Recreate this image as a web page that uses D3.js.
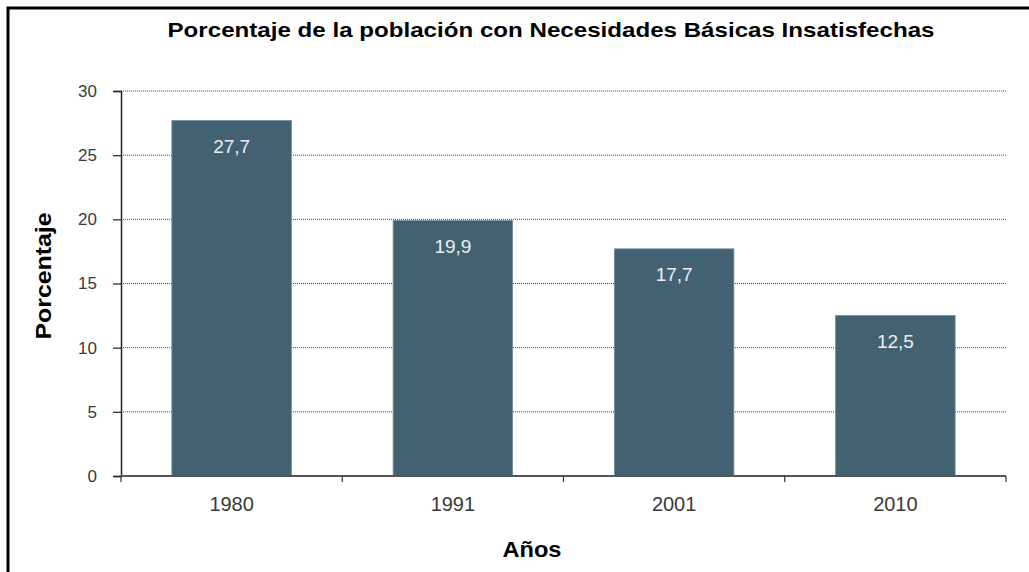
<!DOCTYPE html>
<html>
<head>
<meta charset="utf-8">
<script src="https://cdn.jsdelivr.net/npm/d3@7"></script>
<style>
  body { margin: 0; background: #fff; }
  svg { display: block; font-family: "Liberation Sans", Arial, sans-serif; }
</style>
</head>
<body>
<svg width="1029" height="572"></svg>
<script>
const years = ["1980", "1991", "2001", "2010"];
const values = [27.7, 19.9, 17.7, 12.5];
const yTicks = [0, 5, 10, 15, 20, 25, 30];
const title = "Porcentaje de la población con Necesidades Básicas Insatisfechas";

const svg = d3.select("svg");
const margin = { top: 91, right: 23, bottom: 96, left: 121 };
const width = 1029 - margin.left - margin.right;
const height = 572 - margin.top - margin.bottom;

// outer frame (only top and left edges are visible)
svg.append("rect")
  .attr("x", 8).attr("y", 8)
  .attr("width", 1100).attr("height", 700)
  .attr("fill", "none")
  .attr("stroke", "#000")
  .attr("stroke-width", 3);

const g = svg.append("g").attr("transform", `translate(${margin.left},${margin.top})`);

const x = d3.scaleBand().domain(years).range([0, width]).paddingInner(0.46).paddingOuter(0.23);
const y = d3.scaleLinear().domain([0, 30]).range([height, 0]);

// gridlines
g.selectAll("line.grid")
  .data(yTicks.filter(d => d > 0))
  .enter()
  .append("line")
  .attr("class", "grid")
  .attr("x1", 0).attr("x2", width)
  .attr("y1", d => y(d)).attr("y2", d => y(d))
  .attr("stroke", "#444")
  .attr("stroke-width", 1)
  .attr("stroke-dasharray", "1,1");

// bars
g.selectAll("rect.bar")
  .data(values)
  .enter()
  .append("rect")
  .attr("class", "bar")
  .attr("x", (d, i) => x(years[i]))
  .attr("y", d => y(d))
  .attr("width", x.bandwidth())
  .attr("height", d => height - y(d))
  .attr("fill", "#426272")
  .attr("stroke", "#6f8c9a")
  .attr("stroke-width", 0.8);

// value labels
g.selectAll("text.val")
  .data(values)
  .enter()
  .append("text")
  .attr("class", "val")
  .attr("x", (d, i) => x(years[i]) + x.bandwidth() / 2)
  .attr("y", d => y(d) + 32)
  .attr("text-anchor", "middle")
  .attr("fill", "#eeeeee")
  .attr("font-size", 19)
  .text(d => d.toFixed(1).replace(".", ","));

// y axis
const yAxis = g.append("g")
  .call(d3.axisLeft(y).tickValues(yTicks).tickSize(8).tickPadding(16).tickFormat(d => d));
yAxis.select(".domain").attr("stroke", "#222").attr("stroke-width", 1.5);
yAxis.selectAll(".tick line").attr("stroke", "#222").attr("stroke-width", 1.2);
yAxis.selectAll(".tick text").attr("font-size", 17).attr("fill", "#3a3a3a")
  .attr("font-family", "Liberation Sans, Arial, sans-serif");

// x axis with ticks on band boundaries
const xAxisG = g.append("g").attr("transform", `translate(0,${height})`);
xAxisG.append("line")
  .attr("x1", 0).attr("x2", width)
  .attr("stroke", "#555").attr("stroke-width", 2);
const bounds = d3.range(years.length + 1).map(i => (width / years.length) * i);
xAxisG.selectAll("line.tick")
  .data(bounds)
  .enter()
  .append("line")
  .attr("class", "tick")
  .attr("x1", d => d).attr("x2", d => d)
  .attr("y1", 0).attr("y2", 6)
  .attr("stroke", "#333").attr("stroke-width", 1.2);
xAxisG.selectAll("text")
  .data(years)
  .enter()
  .append("text")
  .attr("x", d => x(d) + x.bandwidth() / 2)
  .attr("y", 35)
  .attr("text-anchor", "middle")
  .attr("font-size", 20)
  .attr("fill", "#3a3a3a")
  .text(d => d);

// titles
svg.append("text")
  .attr("x", 551).attr("y", 37)
  .attr("text-anchor", "middle")
  .attr("font-weight", "bold")
  .attr("font-size", 21)
  .attr("textLength", 767)
  .attr("lengthAdjust", "spacingAndGlyphs")
  .text(title);

svg.append("text")
  .attr("transform", "translate(51,276) rotate(-90)")
  .attr("text-anchor", "middle")
  .attr("font-weight", "bold")
  .attr("font-size", 22)
  .attr("textLength", 127)
  .attr("lengthAdjust", "spacingAndGlyphs")
  .text("Porcentaje");

svg.append("text")
  .attr("x", 532).attr("y", 557)
  .attr("text-anchor", "middle")
  .attr("font-weight", "bold")
  .attr("font-size", 22)
  .attr("textLength", 59)
  .attr("lengthAdjust", "spacingAndGlyphs")
  .text("Años");
</script>
</body>
</html>
